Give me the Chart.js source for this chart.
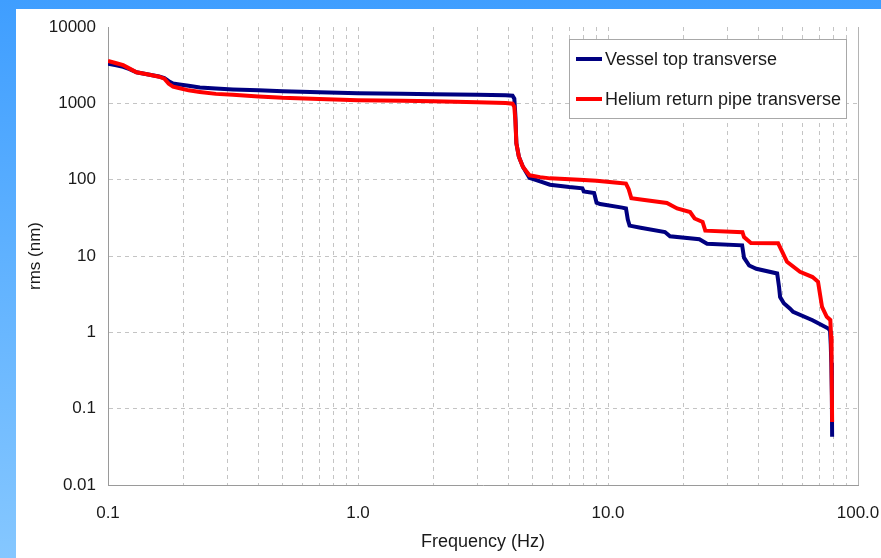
<!DOCTYPE html>
<html>
<head>
<meta charset="utf-8">
<script src="https://cdn.jsdelivr.net/npm/chart.js@4.4.0/dist/chart.umd.min.js"></script>
<style>
  html, body { margin: 0; padding: 0; }
  body {
    width: 881px; height: 558px; overflow: hidden; position: relative;
    background: linear-gradient(180deg, #3f9eff 0%, #62b3ff 50%, #85c7ff 100%);
  }
  #panel { position: absolute; left: 16px; top: 9px; width: 865px; height: 549px; background: #ffffff; }
  canvas { display: block; }
</style>
</head>
<body>
<div id="panel"><canvas id="rmsChart" width="865" height="549"></canvas></div>
<script>
// Cumulative rms displacement vs. frequency
const seriesNames = ['Vessel top transverse', 'Helium return pipe transverse'];

const vesselFreq = [0.1, 0.108, 0.115, 0.122, 0.13, 0.145, 0.16, 0.168, 0.175, 0.182, 0.19, 0.21, 0.233, 0.27,
  0.316, 0.4, 0.5, 0.7, 1.0, 1.5, 2.0, 3.0, 3.9, 4.15, 4.22, 4.26, 4.3, 4.4, 4.57, 4.85, 5.35, 5.86, 7.0, 7.9,
  8.0, 8.8, 9.0, 9.3, 11.4, 11.8, 12.0, 12.2, 13.5, 16.9, 17.7, 23.2, 24.9, 34.4, 35.0, 36.7, 39.2, 47.5, 48.3,
  48.8, 50.5, 53.5, 55.0, 65.8, 76.1, 77.3, 77.8, 78.2, 78.6, 78.8];
const vesselRms = [3300, 3150, 3000, 2800, 2550, 2380, 2250, 2150, 1950, 1820, 1780, 1700, 1610, 1560,
  1520, 1480, 1440, 1400, 1360, 1335, 1320, 1295, 1280, 1260, 1150, 700, 300, 200, 147, 106, 95, 86, 80, 77,
  70, 67, 50, 48, 43, 42, 30, 25, 23.5, 20.6, 18.1, 16.6, 14.5, 13.8, 9.5, 7.5, 6.8, 5.9, 4.0,
  2.9, 2.4, 2.04, 1.85, 1.44, 1.12, 1.05, 0.7, 0.4, 0.15, 0.043];

const heliumFreq = [0.1, 0.108, 0.115, 0.122, 0.13, 0.145, 0.16, 0.168, 0.175, 0.182, 0.19, 0.21, 0.233, 0.27,
  0.316, 0.4, 0.5, 0.7, 1.0, 1.5, 2.0, 3.0, 3.9, 4.15, 4.22, 4.26, 4.3, 4.4, 4.57, 4.85, 5.35, 5.86, 7.7, 9.0,
  10.9, 11.8, 12.1, 12.4, 14.0, 17.2, 18.9, 21.3, 22.2, 23.9, 24.5, 34.5, 35.0, 37.3, 47.9, 50.0, 52.0, 58.6,
  65.8, 69.2, 71.8, 75.0, 77.5, 78.0, 78.4, 78.8];
const heliumRms = [3600, 3350, 3160, 2850, 2550, 2380, 2230, 2100, 1800, 1650, 1600, 1480, 1410, 1330,
  1300, 1230, 1180, 1140, 1100, 1080, 1065, 1035, 1012, 990, 900, 600, 300, 200, 147, 114, 108, 104, 100, 97,
  91, 89, 75, 57, 54, 49.5, 42, 37.7, 31, 28, 21.5, 20.5, 17.7, 14.8, 14.7, 11, 8.4, 6.2,
  5.3, 4.6, 2.15, 1.6, 1.45, 0.9, 0.4, 0.067];

const seriesColors = ['#000080', '#ff0000'];

const xTickValues = [0.1, 1, 10, 100];
const xTickLabels = ['0.1', '1.0', '10.0', '100.0'];
const yTickValues = [0.01, 0.1, 1, 10, 100, 1000, 10000];
const yTickLabels = ['0.01', '0.1', '1', '10', '100', '1000', '10000'];

const FONT = '"Liberation Sans", Arial, Helvetica, sans-serif';
const TEXT = '#1a1a1a';
const GRID = '#c4c4c4';
const AXIS = '#9a9a9a';

function toPoints(xs, ys) { return xs.map((x, i) => ({ x: x, y: ys[i] })); }

function labelFor(values, labels, v) {
  for (let i = 0; i < values.length; i++) {
    if (Math.abs(Math.log10(v) - Math.log10(values[i])) < 1e-6) return labels[i];
  }
  return '';
}

// light frame on the right edge of the plot
const plotFrame = {
  id: 'plotFrame',
  beforeDatasetsDraw(chart) {
    const { ctx, chartArea: a } = chart;
    ctx.save();
    ctx.strokeStyle = '#b4b4b4';
    ctx.lineWidth = 1;
    ctx.beginPath();
    ctx.moveTo(Math.round(a.right) + 0.5, a.top);
    ctx.lineTo(Math.round(a.right) + 0.5, a.bottom);
    ctx.stroke();
    ctx.restore();
  }
};

// boxed legend placed inside the plot, upper right
const boxLegend = {
  id: 'boxLegend',
  afterDraw(chart) {
    const { ctx, chartArea: a } = chart;
    const w = 277, h = 79;
    const x = Math.round(a.right - 12 - w), y = Math.round(a.top + 12);
    ctx.save();
    ctx.fillStyle = '#ffffff';
    ctx.fillRect(x, y, w, h);
    ctx.strokeStyle = '#a8a8a8';
    ctx.lineWidth = 1;
    ctx.strokeRect(x + 0.5, y + 0.5, w, h);
    ctx.font = '18px ' + FONT;
    ctx.textBaseline = 'middle';
    ctx.textAlign = 'left';
    chart.data.datasets.forEach((ds, i) => {
      const cy = y + 20 + i * 40;
      ctx.strokeStyle = ds.borderColor;
      ctx.lineWidth = 4;
      ctx.beginPath();
      ctx.moveTo(x + 7, cy);
      ctx.lineTo(x + 33, cy);
      ctx.stroke();
      ctx.fillStyle = TEXT;
      ctx.fillText(ds.label, x + 36, cy + 1);
    });
    ctx.restore();
  }
};

const decadeMultiples = [];
for (let e = -1; e <= 1; e++) {
  for (let m = 1; m <= 9; m++) decadeMultiples.push(+(m * Math.pow(10, e)).toPrecision(3));
}
decadeMultiples.push(100);

new Chart(document.getElementById('rmsChart'), {
  type: 'line',
  data: {
    datasets: [
      { label: seriesNames[0], data: toPoints(vesselFreq, vesselRms), borderColor: seriesColors[0],
        borderWidth: 4, pointRadius: 0, tension: 0, fill: false, order: 1 },
      { label: seriesNames[1], data: toPoints(heliumFreq, heliumRms), borderColor: seriesColors[1],
        borderWidth: 4, pointRadius: 0, tension: 0, fill: false, order: 0 }
    ]
  },
  options: {
    responsive: false,
    animation: false,
    devicePixelRatio: 1,
    layout: { padding: { top: 18, right: 23, left: 0, bottom: 0 } },
    plugins: { legend: { display: false }, tooltip: { enabled: false } },
    scales: {
      x: {
        type: 'logarithmic',
        min: 0.1, max: 100,
        afterBuildTicks: (s) => { s.ticks = decadeMultiples.map(v => ({ value: v })); },
        afterFit: (s) => { s.height = 73; s.paddingLeft = 0; s.paddingRight = 0; },
        ticks: {
          autoSkip: false, maxRotation: 0, padding: 18, color: TEXT,
          font: { family: FONT, size: 17 },
          callback: (v) => labelFor(xTickValues, xTickLabels, v)
        },
        grid: {
          drawTicks: false, lineWidth: 1,
          color: (c) => (c.tick && (c.tick.value === 100 || c.tick.value === 0.1)) ? 'rgba(0,0,0,0)' : GRID
        },
        border: { display: true, color: AXIS, width: 1, dash: [4, 4] },
        title: { display: true, text: 'Frequency (Hz)', color: TEXT, font: { family: FONT, size: 18 }, padding: { top: 0, bottom: 5 } }
      },
      y: {
        type: 'logarithmic',
        min: 0.01, max: 10000,
        afterBuildTicks: (s) => { s.ticks = yTickValues.map(v => ({ value: v })); },
        afterFit: (s) => { s.width = 92; s.paddingTop = 0; s.paddingBottom = 0; },
        ticks: {
          autoSkip: false, padding: 12, color: TEXT,
          font: { family: FONT, size: 17 },
          callback: (v) => labelFor(yTickValues, yTickLabels, v)
        },
        grid: {
          drawTicks: false, lineWidth: 1,
          color: (c) => (c.tick && (c.tick.value >= 10000 || c.tick.value <= 0.01)) ? 'rgba(0,0,0,0)' : GRID
        },
        border: { display: true, color: AXIS, width: 1, dash: [4, 4] },
        title: { display: true, text: 'rms (nm)', color: TEXT, font: { family: FONT, size: 17 }, padding: { top: 9, bottom: 0 } }
      }
    }
  },
  plugins: [plotFrame, boxLegend]
});
</script>
</body>
</html>
